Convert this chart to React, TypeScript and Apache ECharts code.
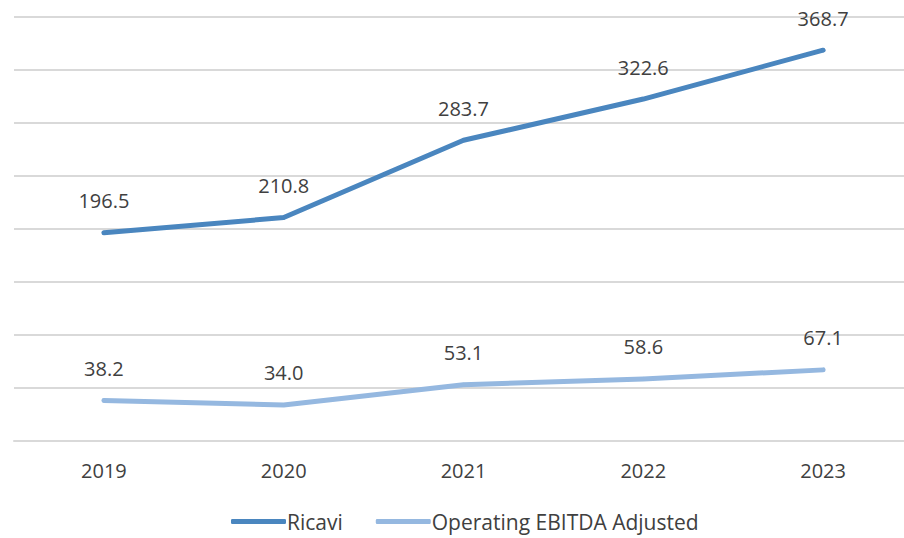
import React, { useEffect, useRef } from "react";
import * as echarts from "echarts";

const categories = ["2019", "2020", "2021", "2022", "2023"];
const ricavi = [196.5, 210.8, 283.7, 322.6, 368.7];
const ebitda = [38.2, 34.0, 53.1, 58.6, 67.1];

const FONT = "'Open Sans', 'Noto Sans', sans-serif";
const TEXT = "#404040";
const C1 = "#4A86BF";
const C2 = "#95B8E0";

export default function App() {
  const ref = useRef<HTMLDivElement>(null);
  useEffect(() => {
    if (!ref.current) return;
    const chart = echarts.init(ref.current, undefined, { renderer: "svg" });
    const label = {
      show: true,
      position: "top",
      distance: 20,
      color: TEXT,
      fontSize: 20,
      fontFamily: FONT,
      formatter: (p: any) => Number(p.value).toFixed(1),
    };
    chart.setOption({
      animation: false,
      backgroundColor: "#ffffff",
      textStyle: { fontFamily: FONT },
      grid: { left: 14, right: 0, top: 17, bottom: 97, containLabel: false },
      legend: {
        bottom: 1,
        left: 226,
        itemWidth: 55,
        itemHeight: 5,
        itemGap: 33,
        icon: "roundRect",
        textStyle: { color: TEXT, fontSize: 21, fontFamily: FONT, padding: [0, 0, 0, -4] },
        data: [
          { name: "Ricavi", itemStyle: { color: C1, opacity: 1 } },
          { name: "Operating EBITDA Adjusted", itemStyle: { color: C2, opacity: 1 } },
        ],
      },
      xAxis: {
        type: "category",
        data: categories,
        boundaryGap: true,
        axisLine: { show: true, lineStyle: { color: "#d9d9d9", width: 2 } },
        axisTick: { show: false },
        axisLabel: { color: TEXT, fontSize: 20, fontFamily: FONT, margin: 19 },
      },
      yAxis: {
        type: "value",
        min: 0,
        max: 400,
        interval: 50,
        axisLabel: { show: false },
        axisLine: { show: false },
        axisTick: { show: false },
        splitLine: { lineStyle: { color: "#d9d9d9", width: 2 } },
      },
      series: [
        {
          name: "Ricavi",
          type: "line",
          data: ricavi,
          symbol: "circle",
          symbolSize: 4,
          showSymbol: true,
          color: C1,
          itemStyle: { color: C1 },
          lineStyle: { width: 5, color: C1, cap: "round", join: "round" },
          label,
        },
        {
          name: "Operating EBITDA Adjusted",
          type: "line",
          data: ebitda,
          symbol: "circle",
          symbolSize: 4,
          showSymbol: true,
          color: C2,
          itemStyle: { color: C2 },
          lineStyle: { width: 5, color: C2, cap: "round", join: "round" },
          label,
        },
      ],
    });
    return () => chart.dispose();
  }, []);
  return (
    <div
      ref={ref}
      style={{ position: "fixed", left: 0, top: 0, width: 913, height: 538, background: "#fff" }}
    />
  );
}
